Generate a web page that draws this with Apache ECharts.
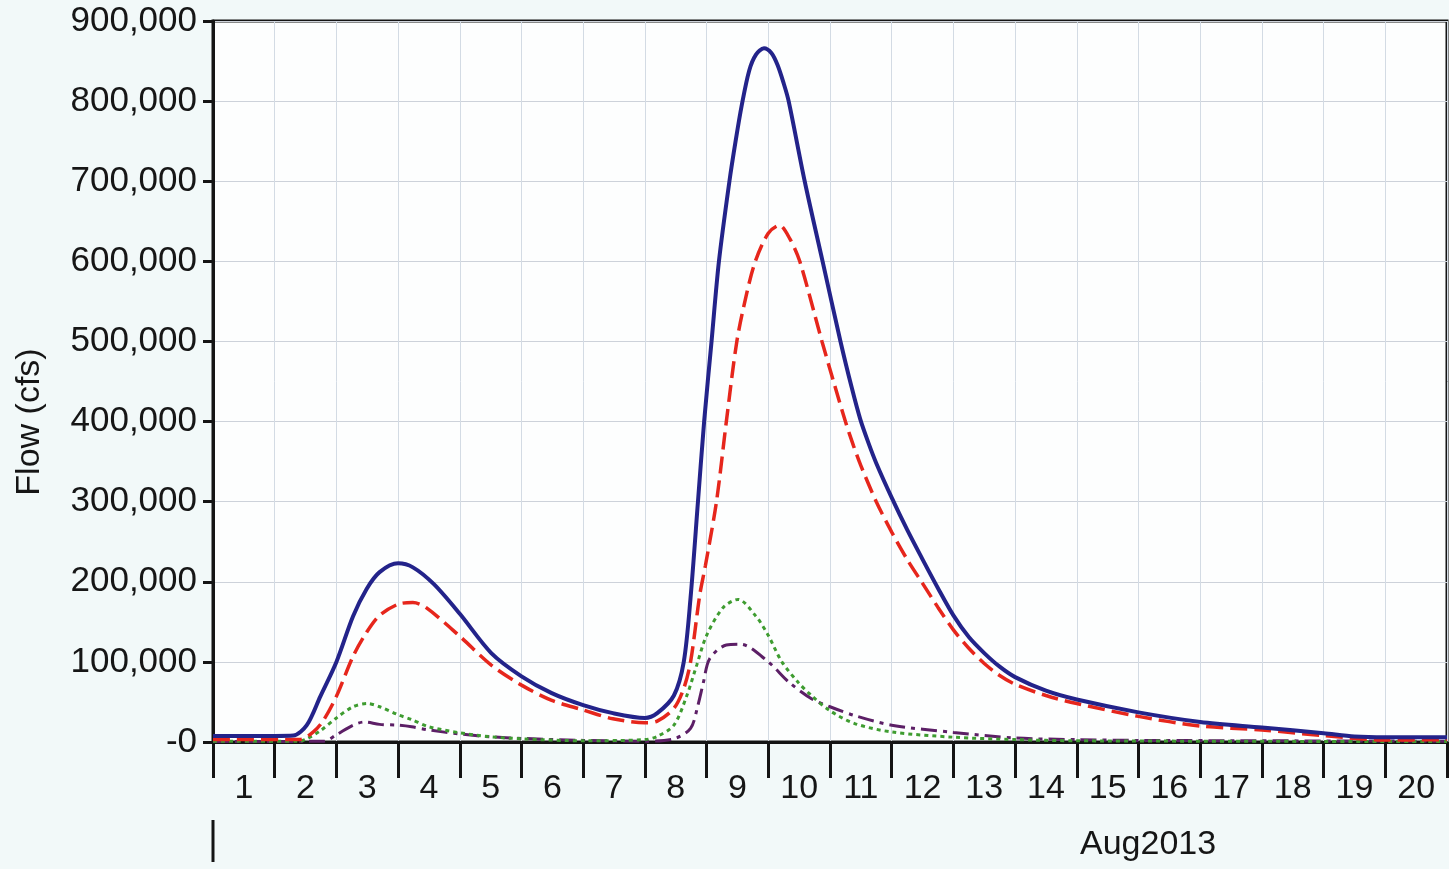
<!DOCTYPE html>
<html>
<head>
<meta charset="utf-8">
<script src="https://cdn.jsdelivr.net/npm/echarts@6/dist/echarts.min.js"></script>
<style>
  html, body { margin: 0; padding: 0; background: #f2f9f9; }
  #chart { width: 1449px; height: 869px; }
</style>
</head>
<body>
<div id="chart"></div>
<script>
// x = days since 1 Aug 2013 00:00, y = flow in cfs
const dayLabels = ['1', '2', '3', '4', '5', '6', '7', '8', '9', '10',
  '11', '12', '13', '14', '15', '16', '17', '18', '19', '20']
const yTicks = [0, 100000, 200000, 300000, 400000, 500000, 600000, 700000, 800000, 900000]

// blue solid
const totalFlow = [
  [0, 7500], [1.0, 7500], [1.3, 8000], [1.52, 21000], [1.74, 57000], [2.0, 100000],
  [2.27, 157000], [2.49, 191000], [2.7, 212000], [3.0, 223000], [3.24, 218000],
  [3.58, 197000], [4.0, 160000], [4.51, 111000], [5.0, 82000], [5.49, 61000],
  [6.0, 46000], [6.48, 36000], [7.0, 30000], [7.2, 36000], [7.47, 58000],
  [7.63, 100000], [7.74, 180000], [7.86, 300000], [7.96, 400000], [8.08, 500000],
  [8.2, 600000], [8.37, 700000], [8.47, 750000], [8.57, 795000], [8.69, 838000],
  [8.8, 858000], [8.93, 866000], [9.05, 860000], [9.15, 845000], [9.25, 822000],
  [9.33, 800000], [9.59, 700000], [9.88, 600000], [10.17, 500000], [10.35, 443000],
  [10.49, 403000], [10.62, 374000], [10.75, 348000], [11.0, 305000], [11.25, 265000],
  [11.5, 228000], [11.75, 192000], [12.0, 158000], [12.25, 131000], [12.5, 111000],
  [12.75, 94000], [13.0, 81000], [13.5, 64000], [14.0, 53000], [15.0, 37000],
  [16.0, 25000], [17.0, 18000], [18.0, 11000], [18.5, 7000], [19.0, 6000], [20.0, 6000]
]

// red dashed
const routedFlow = [
  [0, 3000], [1.4, 3000], [1.63, 13000], [1.79, 27000], [2.0, 57000], [2.27, 107000],
  [2.49, 137000], [2.7, 158000], [3.0, 172000], [3.24, 174000], [3.45, 168000],
  [4.0, 132000], [4.51, 96000], [5.0, 71000], [5.49, 52000], [6.0, 40000],
  [6.48, 29000], [7.0, 24000], [7.2, 26000], [7.47, 42000], [7.63, 67000],
  [7.74, 100000], [7.89, 184000], [7.98, 220000], [8.16, 300000], [8.32, 400000],
  [8.49, 500000], [8.65, 560000], [8.79, 600000], [9.0, 635000], [9.18, 645000],
  [9.35, 628000], [9.51, 600000], [9.87, 500000], [10.05, 452000], [10.25, 400000],
  [10.38, 370000], [10.5, 345000], [10.75, 300000], [11.0, 262000], [11.25, 228000],
  [11.5, 198000], [11.75, 168000], [12.0, 140000], [12.25, 117000], [12.5, 98000],
  [12.75, 83000], [13.0, 72000], [13.5, 58000], [14.0, 48000], [15.0, 32000],
  [16.0, 20000], [17.0, 15000], [18.0, 8000], [19.0, 2500], [20.0, 3000]
]

// green dotted
const localFlow = [
  [0, 1000], [1.4, 1000], [1.52, 4000], [1.74, 14000], [2.0, 30000], [2.27, 44000],
  [2.5, 48000], [2.7, 44000], [3.0, 34000], [3.22, 28000], [3.5, 19000],
  [4.0, 11500], [4.5, 6500], [5.0, 4000], [6.0, 1500], [7.0, 3000], [7.2, 7000],
  [7.47, 21000], [7.68, 58000], [7.84, 96000], [8.0, 133000], [8.27, 168000],
  [8.51, 178000], [8.8, 157000], [9.0, 133000], [9.22, 100000], [9.49, 74000],
  [9.7, 58000], [10.0, 39000], [10.4, 23000], [11.0, 12500], [12.0, 6000],
  [13.0, 3000], [14.0, 1500], [20.0, 500]
]

// purple dash-dot
const sideFlow = [
  [0, 500], [1.8, 1000], [2.0, 9000], [2.27, 21000], [2.45, 25000], [2.7, 22000],
  [3.0, 21000], [3.22, 19000], [3.5, 15000], [4.0, 10000], [4.5, 6500], [5.0, 4500],
  [6.0, 2000], [7.0, 1000], [7.47, 4000], [7.74, 17000], [7.86, 46000], [7.95, 75000],
  [8.05, 104000], [8.32, 121000], [8.55, 122000], [9.0, 100000], [9.33, 75000],
  [9.7, 54000], [10.0, 44000], [10.4, 33000], [11.0, 21000], [12.0, 12000],
  [13.0, 5000], [14.0, 3000], [15.0, 2000], [20.0, 1000]
]

const font = 'Liberation Sans, Arial, sans-serif'
const chart = echarts.init(document.getElementById('chart'))

function lineSeries (name, data, color, width, dash) {
  return {
    name: name,
    type: 'line',
    xAxisIndex: 0,
    data: data,
    showSymbol: false,
    smooth: 0.3,
    lineStyle: { color: color, width: width, type: dash, cap: 'butt' },
    z: 5
  }
}

const option = {
  backgroundColor: '#f2f9f9',
  animation: false,
  grid: {
    left: 213,
    right: 2,
    top: 21,
    bottom: 127,
    show: true,
    backgroundColor: '#fdfefe',
    borderColor: '#141414',
    borderWidth: 3,
    outerBoundsMode: 'none'
  },
  xAxis: [
    {
      type: 'value',
      min: 0,
      max: 20,
      interval: 1,
      axisLine: { show: true, onZero: false, lineStyle: { color: '#141414', width: 3 } },
      axisTick: { show: true, length: 36, lineStyle: { color: '#141414', width: 3 } },
      axisLabel: { show: false },
      splitLine: { show: true, lineStyle: { color: '#d3dbe4', width: 1 } }
    },
    {
      type: 'category',
      data: dayLabels,
      position: 'bottom',
      boundaryGap: true,
      axisLine: { show: false },
      axisTick: { show: false },
      splitLine: { show: false },
      axisLabel: {
        interval: 0,
        margin: 30,
        fontSize: 34,
        fontFamily: font,
        color: '#161616'
      }
    }
  ],
  yAxis: {
    type: 'value',
    min: yTicks[0],
    max: yTicks[yTicks.length - 1],
    interval: 100000,
    axisLine: { show: true, lineStyle: { color: '#141414', width: 3 } },
    axisTick: { show: true, length: 10, lineStyle: { color: '#141414', width: 3 } },
    axisLabel: {
      margin: 16,
      fontSize: 35,
      fontFamily: font,
      color: '#161616',
      formatter: function (v) {
        return v === 0 ? '-0' : v.toLocaleString('en-US')
      }
    },
    splitLine: { show: true, lineStyle: { color: '#cdd2da', width: 1 } }
  },
  graphic: [
    {
      type: 'text',
      x: 30,
      y: 422,
      rotation: Math.PI / 2,
      style: {
        text: 'Flow (cfs)',
        fontSize: 34,
        fontFamily: font,
        fill: '#161616',
        align: 'center',
        verticalAlign: 'middle'
      }
    },
    {
      type: 'line',
      shape: { x1: 213, y1: 820, x2: 213, y2: 862 },
      style: { stroke: '#141414', lineWidth: 3 }
    },
    {
      type: 'text',
      left: 1080,
      top: 828,
      style: { text: 'Aug2013', fontSize: 34, fontFamily: font, fill: '#161616' }
    }
  ],
  series: [
    lineSeries('side', sideFlow, '#5c1f66', 3, [16, 6, 4, 6]),
    lineSeries('local', localFlow, '#3e9c30', 3, [4, 4]),
    lineSeries('routed', routedFlow, '#e6261c', 3.5, [17, 7]),
    lineSeries('total', totalFlow, '#23238a', 4, 'solid')
  ]
}

chart.setOption(option)
</script>
</body>
</html>
